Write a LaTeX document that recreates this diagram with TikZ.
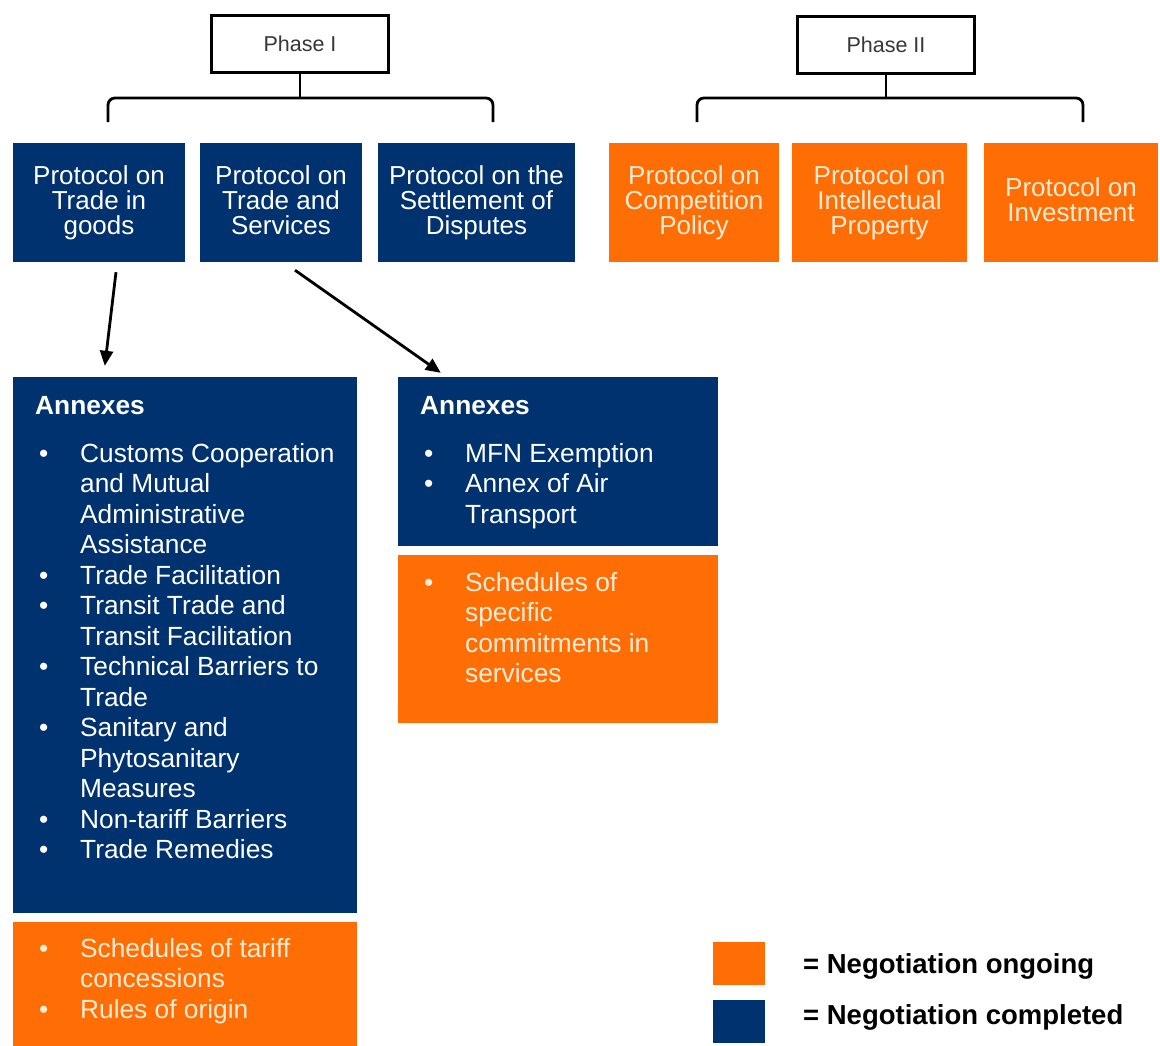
\documentclass[tikz,border=0pt]{standalone}
\usepackage{fontspec}
\setmainfont{Liberation Sans}
\usetikzlibrary{arrows.meta, positioning, calc}

\definecolor{navy}{RGB}{0,50,112}
\definecolor{ongo}{RGB}{255,110,5}
\definecolor{cream}{RGB}{255,236,214}
\definecolor{phgray}{RGB}{55,55,55}

%% bullet and hanging indent for the annex lists
\newcommand{\annbul}{\makebox[45pt][l]{\hspace*{4pt}\textbullet}}
\newcommand{\annind}{\hspace*{45pt}}

\begin{document}
\begin{tikzpicture}[x=1pt, y=-1pt,
  %% Node styles
  phase/.style ={draw, line width=2.6pt, fill=white, minimum width=177, minimum height=57,
                 text=phgray, font=\fontsize{21.5}{24}\selectfont},
  dblock/.style={fill=navy, text=white, inner sep=0pt, align=center,
                 font=\fontsize{26}{25}\selectfont},
  oblock/.style={fill=ongo, text=cream, inner sep=0pt, align=center,
                 font=\fontsize{26}{25}\selectfont},
  lst/.style   ={anchor=north west, inner sep=0pt, align=left,
                 font=\fontsize{26.3}{30.5}\selectfont},
  legtxt/.style={anchor=west, inner sep=0pt, font=\fontsize{27.5}{30}\selectfont\bfseries},
  %% Lines
  brk/.style   ={line width=2.8pt, rounded corners=7pt},
  arr/.style   ={-{Triangle[length=15pt, width=13pt]}, line width=2.8pt}
]
\useasboundingbox (0,0) rectangle (1160,1045);

%% ── PHASE HEADERS ─────────────────────────────────────────
\node[phase] (ph1) at (300,44) {Phase I};
\node[phase] (ph2) at (886,45) {Phase II};

%% ── PROTOCOLS ─────────────────────────────────────────────
\node[dblock, minimum width=172, minimum height=119] (tig) at (99,202.5)
  {Protocol on\\Trade in\\goods};
\node[dblock, minimum width=162, minimum height=119] (tas) at (281,202.5)
  {Protocol on\\Trade and\\Services\vphantom{g}};
\node[dblock, minimum width=197, minimum height=119] (sod) at (476.5,202.5)
  {Protocol on the\\Settlement of\\Disputes};
\node[oblock, minimum width=170, minimum height=119] (cpo) at (694,202.5)
  {Protocol on\\Competition\\Policy};
\node[oblock, minimum width=175, minimum height=119] (ipr) at (879.5,202.5)
  {Protocol on\\Intellectual\\Property};
\node[oblock, minimum width=174, minimum height=119] (inv) at (1071,202.5)
  {Protocol on\\Investment\vphantom{g}};

%% brackets under the phase boxes
\coordinate (b1L) at (108,122);
\coordinate (b1R) at (493,122);
\coordinate (b1T) at (300,98);
\coordinate (b2L) at (697,122);
\coordinate (b2R) at (1083,122);
\coordinate (b2T) at (886,98);
\draw[brk] (b1L) -- (b1L |- b1T) -- (b1R |- b1T) -- (b1R);
\draw[brk] (ph1.south) -- (b1T);
\draw[brk] (b2L) -- (b2L |- b2T) -- (b2R |- b2T) -- (b2R);
\draw[brk] (ph2.south) -- (b2T);

%% ── ANNEXES: GOODS ────────────────────────────────────────
\node[dblock, minimum width=344, minimum height=536] (annG) at (185,645) {};
\node[oblock, minimum width=344, minimum height=126] (schG) at (185,985) {};

\node[lst, text=white] (annGtxt) at (35,396) {%
  \textbf{Annexes}\\[17.5pt]
  \annbul Customs Cooperation\\
  \annind and Mutual\\
  \annind Administrative\\
  \annind Assistance\\
  \annbul Trade Facilitation\\
  \annbul Transit Trade and\\
  \annind Transit Facilitation\\
  \annbul Technical Barriers to\\
  \annind Trade\\
  \annbul Sanitary and\\
  \annind Phytosanitary\\
  \annind Measures\\
  \annbul Non-tariff Barriers\\
  \annbul Trade Remedies};
\node[lst, text=cream] (schGtxt) at (35,938) {%
  \annbul Schedules of tariff\\
  \annind concessions\\
  \annbul Rules of origin};

%% ── ANNEXES: SERVICES ─────────────────────────────────────
\node[dblock, minimum width=320, minimum height=169] (annS) at (558,461.5) {};
\node[oblock, minimum width=320, minimum height=168] (schS) at (558,639) {};

\node[lst, text=white] (annStxt) at (420,396) {%
  \textbf{Annexes}\\[17.5pt]
  \annbul MFN Exemption\\
  \annbul Annex of Air\\
  \annind Transport};
\node[lst, text=cream] (schStxt) at (420,572) {%
  \annbul Schedules of\\
  \annind specific\\
  \annind commitments in\\
  \annind services};

%% protocol -> annexes
\draw[arr] ([xshift=17pt, yshift=-10pt]tig.south) -- ([xshift=92pt, yshift=11pt]annG.north west);
\draw[arr] ([xshift=14pt, yshift=-8pt]tas.south) -- ([xshift=43pt, yshift=4pt]annS.north west);

%% ── LEGEND ────────────────────────────────────────────────
\node[fill=ongo, minimum width=52, minimum height=43, inner sep=0pt] (keyO) at (739,963.5) {};
\node[fill=navy, minimum width=52, minimum height=43, inner sep=0pt] (keyB) at (739,1021.5) {};
\node[legtxt] (txtO) at (803,966) {= Negotiation ongoing};
\node[legtxt] (txtB) at (803,1017) {= Negotiation completed};

\end{tikzpicture}
\end{document}
